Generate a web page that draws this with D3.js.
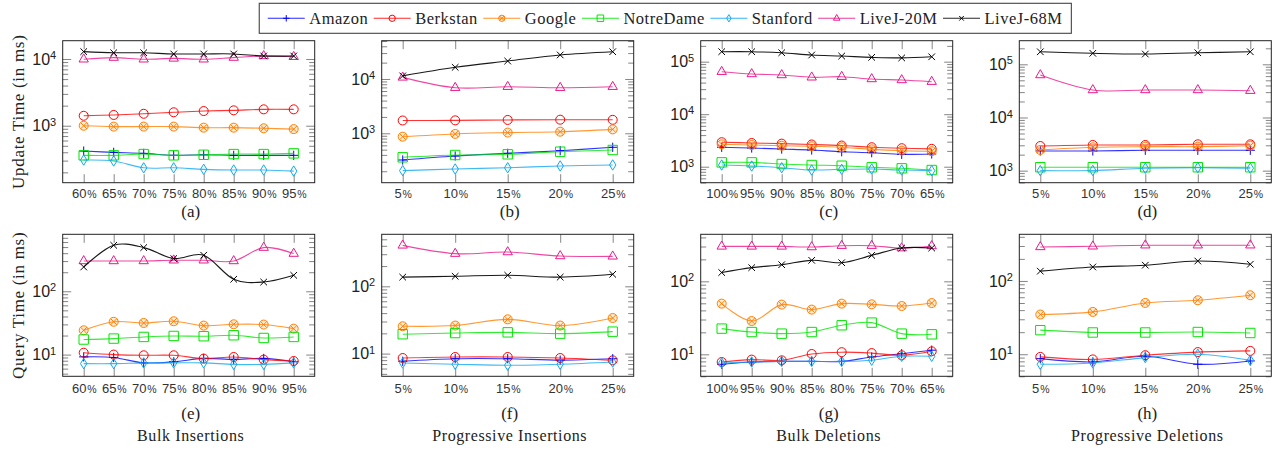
<!DOCTYPE html>
<html>
<head>
<meta charset="utf-8">
<script src="https://cdn.jsdelivr.net/npm/d3@7"></script>
<style>
  body { margin: 0; background: #fff; }
  svg { display: block; font-family: "Liberation Serif", "DejaVu Serif", serif; }
</style>
</head>
<body>
<svg width="1281" height="452"></svg>
<script>
// Series (same order everywhere)
const seriesNames = ["Amazon", "Berkstan", "Google", "NotreDame", "Stanford", "LiveJ-20M", "LiveJ-68M"];
const seriesColors = ["#0000ff", "#ff0000", "#ff8000", "#00e600", "#12a8ee", "#e8198b", "#000000"];
const seriesMarkers = ["plus", "circle", "otimes", "square", "diamond", "triangle", "cross"];

// x categories (percent)
const bulkInsLabels = ["60", "65", "70", "75", "80", "85", "90", "95"];
const progLabels = ["5", "10", "15", "20", "25"];
const bulkDelLabels = ["100", "95", "90", "85", "80", "75", "70", "65"];

// Update time (ms), one row per series
const updBulkIns = [
  [417, 399, 385, 360, 367, 360, 360, 360],
  [1410, 1450, 1510, 1590, 1660, 1700, 1760, 1760],
  [1000, 970, 970, 970, 935, 935, 915, 890],
  [360, 360, 376, 360, 367, 376, 376, 385],
  [306, 296, 234, 234, 222, 217, 217, 209],
  [9900, 10500, 9900, 10200, 9900, 10500, 11100, 10800],
  [12900, 12400, 12400, 11900, 11900, 11900, 11100, 11100]
];
const updProgIns = [
  [322, 382, 428, 478, 552],
  [1720, 1730, 1760, 1780, 1770],
  [866, 973, 1030, 1070, 1180],
  [361, 398, 410, 458, 492],
  [205, 220, 232, 250, 261],
  [10700, 6900, 7200, 6900, 7200],
  [11400, 16400, 21400, 27700, 31800]
];
const updBulkDel = [
  [2340, 2270, 2170, 2080, 1930, 1850, 1720, 1750],
  [2930, 2830, 2750, 2650, 2530, 2350, 2250, 2190],
  [2670, 2590, 2510, 2450, 2340, 2140, 2020, 1970],
  [1210, 1210, 1125, 1077, 1045, 975, 932, 865],
  [1077, 1030, 957, 865, 892, 904, 865, 839],
  [64400, 58300, 55800, 50400, 51800, 46800, 44800, 41600],
  [155000, 155000, 148000, 134000, 128000, 121000, 118000, 124000]
];
const updProgDel = [
  [2350, 2350, 2420, 2420, 2420],
  [2910, 3040, 3040, 3130, 3130],
  [2450, 2750, 2830, 2830, 2950],
  [1160, 1160, 1160, 1160, 1160],
  [1000, 1010, 1110, 1140, 1110],
  [62900, 32900, 32900, 32900, 31900],
  [172000, 161000, 156000, 165000, 172000]
];

// Query time (ms)
const qryBulkIns = [
  [9.2, 9.0, 7.4, 7.7, 8.7, 8.4, 8.7, 7.7],
  [10.7, 10.0, 9.75, 9.75, 8.65, 9.16, 8.34, 7.92],
  [24.2, 33.0, 31.6, 33.6, 28.7, 30.1, 29.8, 25.7],
  [17.3, 17.9, 19.0, 19.7, 19.5, 20.2, 18.3, 19.0],
  [7.2, 7.2, 7.4, 7.4, 7.4, 7.0, 7.0, 7.4],
  [301, 301, 301, 309, 309, 301, 490, 394],
  [242, 533, 490, 329, 371, 155, 140, 179]
];
const qryProgIns = [
  [7.7, 8.4, 8.4, 8.0, 8.4],
  [8.6, 8.9, 8.9, 8.6, 7.95],
  [25.5, 26.1, 32.3, 26.1, 33.8],
  [19.4, 20.2, 20.7, 19.8, 21.2],
  [7.25, 6.95, 6.7, 6.95, 7.5],
  [406, 306, 323, 282, 279],
  [137, 141, 146, 137, 151]
];
const qryBulkDel = [
  [7.3, 7.85, 8.0, 8.0, 8.0, 9.2, 10.2, 11.4],
  [7.85, 8.46, 8.28, 10.1, 10.7, 10.4, 9.7, 11.0],
  [49.5, 28.6, 48, 41, 49.5, 48.4, 45.9, 50.4],
  [22.5, 20.2, 19.2, 20.2, 25, 27.2, 19.2, 18.8],
  [7.6, 7.85, 8.0, 8.0, 8.0, 8.3, 9.4, 9.4],
  [301, 301, 301, 295, 308, 308, 285, 305],
  [132, 154, 169, 194, 180, 227, 286, 286]
];
const qryProgDel = [
  [8.7, 7.85, 9.4, 7.3, 8.1],
  [9.2, 8.5, 9.7, 10.7, 11.1],
  [34.8, 37.8, 50.1, 54.5, 63.8],
  [21.3, 19.8, 19.8, 20.1, 19.5],
  [7.3, 7.6, 9.0, 10.0, 8.3],
  [291, 297, 307, 307, 307],
  [136, 155, 164, 187, 169]
];

// y-axis limits per panel (a)..(h)
const yDomains = [
  [140, 18800], [123, 50700], [496, 251000], [594, 278000],
  [4.54, 795], [4.6, 593], [5.0, 441], [5.0, 433]
];
const panelTags = ["(a)", "(b)", "(c)", "(d)", "(e)", "(f)", "(g)", "(h)"];
const columnTitles = ["Bulk Insertions", "Progressive Insertions", "Bulk Deletions", "Progressive Deletions"];
const rowTitles = ["Update Time (in ms)", "Query Time (in ms)"];

const panels = [
  {data: updBulkIns, cats: bulkInsLabels}, {data: updProgIns, cats: progLabels},
  {data: updBulkDel, cats: bulkDelLabels}, {data: updProgDel, cats: progLabels},
  {data: qryBulkIns, cats: bulkInsLabels}, {data: qryProgIns, cats: progLabels},
  {data: qryBulkDel, cats: bulkDelLabels}, {data: qryProgDel, cats: progLabels}
];

// layout
const plotW = 252, plotH = 142;
const colX = [62.7, 381.7, 700.7, 1019.3];
const rowY = [40.7, 234.3];
const tagOffset = [34, 43];
const tickPad = [6.5, 7.5];
const svg = d3.select("svg");

function circ(r) {
  return `M${r},0A${r},${r} 0 1,1 ${-r},0A${r},${r} 0 1,1 ${r},0Z`;
}

// marker shapes, k = scale
function addMarker(g, type, color, k) {
  let d, fill = "none", fo = 1;
  if (type === "plus") { const s = 4.6 * k; d = `M${-s},0H${s}M0,${-s}V${s}`; }
  else if (type === "circle") { d = circ(4.5 * k); }
  else if (type === "otimes") {
    const r = 4.5 * k, a = r * 0.7071;
    d = circ(r) + `M${-a},${-a}L${a},${a}M${-a},${a}L${a},${-a}`;
    fill = color; fo = 0.15;
  }
  else if (type === "square") { const s = 4.7 * k; d = `M${-s},${-s}H${s}V${s}H${-s}Z`; }
  else if (type === "diamond") { const w = 3.2 * k, h = 5.2 * k; d = `M0,${-h}L${w},0L0,${h}L${-w},0Z`; }
  else if (type === "triangle") {
    const R = 5.4 * k;
    d = `M0,${-R}L${R * 0.866},${R * 0.5}L${-R * 0.866},${R * 0.5}Z`;
  }
  else { const s = 3.3 * k; d = `M${-s},${-s}L${s},${s}M${-s},${s}L${s},${-s}`; }
  g.append("path")
    .attr("d", d)
    .attr("fill", fill)
    .attr("fill-opacity", fo)
    .attr("stroke", color)
    .attr("stroke-width", 1);
}

function decadesIn(dom) {
  const out = [];
  for (let e = Math.ceil(Math.log10(dom[0])); Math.pow(10, e) <= dom[1]; e++) out.push(Math.pow(10, e));
  return out;
}
function minorsIn(dom) {
  const out = [];
  for (let e = Math.floor(Math.log10(dom[0])); Math.pow(10, e) <= dom[1]; e++) {
    for (let m = 2; m <= 9; m++) {
      const v = m * Math.pow(10, e);
      if (v >= dom[0] && v <= dom[1]) out.push(v);
    }
  }
  return out;
}

const curve = d3.curveCardinal.tension(0);

panels.forEach((p, i) => {
  const col = i % 4, row = Math.floor(i / 4);
  const g = svg.append("g").attr("transform", `translate(${colX[col]},${rowY[row]})`);

  const x = d3.scalePoint().domain(p.cats).range([21, plotW - 21]);
  const y = d3.scaleLog().domain(yDomains[i]).range([plotH, 0]);

  const majors = decadesIn(yDomains[i]);
  const minors = minorsIn(yDomains[i]);

  const styleTicks = sel => {
    sel.select(".domain").remove();
    sel.selectAll(".tick line").attr("stroke", "#666").attr("stroke-width", 0.8);
  };

  // left axis with labels 10^n
  const yl = g.append("g")
    .call(d3.axisLeft(y).tickValues(majors).tickSizeInner(-8.5).tickSizeOuter(0).tickPadding(6.5))
    .call(styleTicks);
  yl.selectAll(".tick text").each(function(v) {
    const t = d3.select(this).text("")
      .attr("font-family", null).attr("font-size", 16).attr("fill", "#222");
    t.append("tspan").text("10");
    t.append("tspan").attr("font-size", 11).attr("dy", "-0.5em").text(Math.round(Math.log10(v)));
  });
  g.append("g")
    .call(d3.axisLeft(y).tickValues(minors).tickSizeInner(-5.5).tickSizeOuter(0).tickFormat(""))
    .call(styleTicks);
  // right axis
  g.append("g").attr("transform", `translate(${plotW},0)`)
    .call(d3.axisRight(y).tickValues(majors).tickSizeInner(-8.5).tickSizeOuter(0).tickFormat(""))
    .call(styleTicks);
  g.append("g").attr("transform", `translate(${plotW},0)`)
    .call(d3.axisRight(y).tickValues(minors).tickSizeInner(-5.5).tickSizeOuter(0).tickFormat(""))
    .call(styleTicks);
  // bottom axis with % labels
  const xb = g.append("g").attr("transform", `translate(0,${plotH})`)
    .call(d3.axisBottom(x).tickSizeInner(-8.5).tickSizeOuter(0).tickPadding(tickPad[row]))
    .call(styleTicks);
  xb.selectAll(".tick text").each(function(v) {
    const t = d3.select(this).text("")
      .attr("font-family", null).attr("font-size", 13).attr("fill", "#333");
    t.append("tspan").text(v);
    t.append("tspan").attr("font-size", 10.5).attr("dx", 0.8).text("%");
  });
  // top axis
  g.append("g")
    .call(d3.axisTop(x).tickSizeInner(-8.5).tickSizeOuter(0).tickFormat(""))
    .call(styleTicks);

  // series
  const line = d3.line().x((d, j) => x(p.cats[j])).y(d => y(d)).curve(curve);
  p.data.forEach((vals, s) => {
    g.append("path")
      .attr("d", line(vals))
      .attr("fill", "none")
      .attr("stroke", seriesColors[s])
      .attr("stroke-width", 1.1)
      .attr("stroke-opacity", s === 6 ? 0.9 : 0.8);
    vals.forEach((v, j) => {
      const m = g.append("g").attr("transform", `translate(${x(p.cats[j])},${y(v)})`);
      addMarker(m, seriesMarkers[s], seriesColors[s], 1);
    });
  });

  // frame
  g.append("rect")
    .attr("width", plotW).attr("height", plotH)
    .attr("fill", "none").attr("stroke", "#222").attr("stroke-width", 1);

  // sub caption
  g.append("text")
    .attr("x", plotW / 2 + 2)
    .attr("y", plotH + tagOffset[row])
    .attr("text-anchor", "middle")
    .attr("font-size", 17)
    .attr("fill", "#222")
    .text(panelTags[i]);

  if (row === 1) {
    g.append("text")
      .attr("x", plotW / 2 + 2)
      .attr("y", plotH + 65)
      .attr("text-anchor", "middle")
      .attr("font-size", 16)
      .attr("letter-spacing", 0.6)
      .attr("fill", "#222")
      .text(columnTitles[col]);
  }
  if (col === 0) {
    g.append("text")
      .attr("transform", `translate(${18.5 - colX[0]},${plotH / 2}) rotate(-90)`)
      .attr("text-anchor", "middle")
      .attr("dominant-baseline", "central")
      .attr("font-size", 17)
      .attr("letter-spacing", 0.7)
      .attr("fill", "#222")
      .text(rowTitles[row]);
  }
});

// legend
const legend = svg.append("g");
const items = legend.selectAll("g.item").data(seriesNames).enter().append("g").attr("class", "item");
items.append("text")
  .attr("font-size", 16.5)
  .attr("letter-spacing", 0.5)
  .attr("fill", "#222")
  .attr("dy", "0.33em")
  .text(d => d);
const lineLen = 37, gapA = 4.5, gapB = 5.5, padL = 8.5, padR = 9;
let cx = padL;
items.each(function(d, s) {
  const it = d3.select(this);
  const tw = it.select("text").node().getComputedTextLength();
  it.attr("transform", `translate(${cx},0)`);
  it.insert("line", "text")
    .attr("x1", 0).attr("x2", lineLen).attr("y1", 0).attr("y2", 0)
    .attr("stroke", seriesColors[s]).attr("stroke-width", 1.1).attr("stroke-opacity", 0.85);
  const m = it.append("g").attr("transform", `translate(${lineLen / 2},0)`);
  addMarker(m, seriesMarkers[s], seriesColors[s], 0.7);
  it.select("text").attr("x", lineLen + gapA);
  cx += lineLen + gapA + tw + (s < seriesNames.length - 1 ? gapB : 0);
});
const legendW = cx + padR, legendH = 30;
legend.insert("rect", "g")
  .attr("x", 0).attr("y", -legendH / 2)
  .attr("width", legendW).attr("height", legendH)
  .attr("fill", "#fff").attr("stroke", "#444").attr("stroke-width", 1.1);
legend.attr("transform", `translate(${665.3 - legendW / 2},18.3)`);
</script>
</body>
</html>
